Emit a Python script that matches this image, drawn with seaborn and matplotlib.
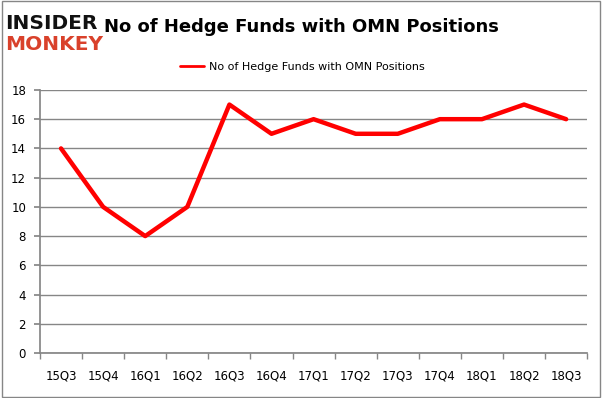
import pandas as pd
import matplotlib.pyplot as plt
import seaborn as sns

quarters = ["15Q3", "15Q4", "16Q1", "16Q2", "16Q3", "16Q4", "17Q1",
            "17Q2", "17Q3", "17Q4", "18Q1", "18Q2", "18Q3"]
funds = [14, 10, 8, 10, 17, 15, 16, 15, 15, 16, 16, 17, 16]
label = "No of Hedge Funds with OMN Positions"

sns.set_theme(style="white")
plt.rcParams['font.family'] = ['DejaVu Sans']

df = pd.DataFrame({"quarter": range(len(quarters)), "funds": funds})

fig = plt.figure(figsize=(6.02, 3.98), dpi=100)
ax = fig.add_axes([0.0664, 0.113, 0.909, 0.661])

sns.lineplot(x="quarter", y="funds", data=df, color="#ff0000", linewidth=3.2,
             label=label, ax=ax)

ax.set_xlim(-0.5, len(quarters) - 0.5)
ax.set_ylim(0, 18)
ax.set_yticks(range(0, 19, 2))
ax.set_xticks(range(len(quarters)))
ax.set_xticklabels(quarters)
ax.set_xticks([i - 0.5 for i in range(len(quarters) + 1)], minor=True)
ax.tick_params(axis="x", which="major", bottom=False, length=0, pad=12, labelsize=8.5,
               labelcolor="black")
ax.tick_params(axis="x", which="minor", bottom=True, length=4, width=1,
               color="#868686", direction="out")
ax.tick_params(axis="y", left=True, length=4, color="#868686", direction="out",
               labelsize=8.5, pad=6, labelcolor="black")
ax.grid(axis="y", color="#868686", linewidth=1)
ax.set_axisbelow(True)
for side in ["top", "right"]:
    ax.spines[side].set_visible(False)
for side in ["left", "bottom"]:
    ax.spines[side].set_color("#868686")
ax.set_xlabel("")
ax.set_ylabel("")

leg = ax.legend(loc="lower center", bbox_to_anchor=(0.479, 1.03), frameon=False,
                fontsize=8, handlelength=2.2, handletextpad=0.4, labelcolor="black")
for line in leg.get_lines():
    line.set_linewidth(2)

fig.text(0.50, 0.932, label, ha="center", va="center", fontsize=13,
         fontweight="bold", color="black")

# logo
fig.text(0.008, 0.942, "INSIDER", fontsize=14.5, fontweight="bold", color="#111111",
         va="center", ha="left")
fig.text(0.008, 0.887, "MONKEY", fontsize=14.5, fontweight="bold", color="#d9412b",
         va="center", ha="left")

# outer frame
fig.patches.append(plt.Rectangle((0.003, 0.003), 0.994, 0.994, transform=fig.transFigure,
                                 fill=False, edgecolor="#868686", linewidth=1))

fig.savefig("out.png", dpi=100)
